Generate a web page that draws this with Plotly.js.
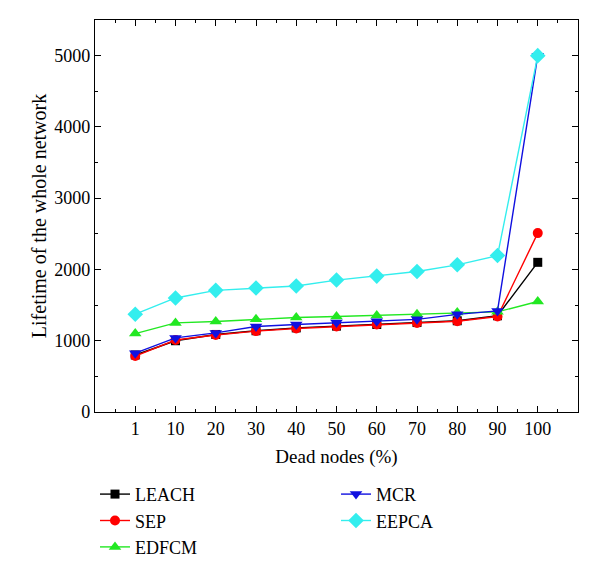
<!DOCTYPE html>
<html>
<head>
<meta charset="utf-8">
<script src="https://cdn.plot.ly/plotly-3.0.1.min.js"></script>
<style>html,body{margin:0;padding:0;background:#fff;}</style>
</head>
<body>
<div id="chart" style="width:600px;height:582px;"></div>
<script>
const categories = ["1","10","20","30","40","50","60","70","80","90","100"];
const leach = [800, 1000, 1088, 1140, 1180, 1205, 1228, 1255, 1280, 1350, 2100];
const sep   = [785, 1010, 1080, 1135, 1172, 1200, 1228, 1250, 1274, 1340, 2510];
const edfcm = [1100, 1250, 1270, 1300, 1325, 1340, 1355, 1370, 1395, 1405, 1550];
const mcr   = [825, 1040, 1110, 1200, 1228, 1255, 1275, 1300, 1370, 1418, 5000];
const eepca = [1372, 1600, 1707, 1740, 1767, 1851, 1907, 1972, 2065, 2195, 5000];

const xpos = categories.map((c, i) => i + 1);
const serif = "Liberation Serif, DejaVu Serif, serif";

function tr(name, y, color, symbol, size, legend) {
  return {
    x: xpos, y: y, name: name, type: "scatter", mode: "lines+markers",
    line: {color: color, width: 1.4},
    marker: {color: color, symbol: symbol, size: size},
    legend: legend
  };
}

const data = [
  tr("LEACH", leach, "#000000", "square", 9, "legend"),
  tr("SEP", sep, "#ff0000", "circle", 10, "legend"),
  tr("EDFCM", edfcm, "#22e822", "triangle-up", 11, "legend"),
  tr("MCR", mcr, "#1010e0", "triangle-down", 11, "legend2"),
  tr("EEPCA", eepca, "#33eeee", "diamond", 12, "legend2")
];

const legendBase = {
  orientation: "v", yanchor: "top", xanchor: "left",
  font: {family: serif, size: 18, color: "#000"},
  bgcolor: "rgba(0,0,0,0)", tracegroupgap: 0
};

const layout = {
  width: 600, height: 582,
  margin: {l: 95, r: 22, t: 20, b: 170},
  paper_bgcolor: "#fff", plot_bgcolor: "#fff",
  font: {family: serif, size: 18, color: "#000"},
  showlegend: true,
  xaxis: {
    range: [0, 12], tickmode: "array", tickvals: xpos, ticktext: categories,
    ticks: "inside", ticklen: 6, tickwidth: 1, tickcolor: "#000",
    showline: true, linecolor: "#000", linewidth: 1.2, mirror: "allticks",
    showgrid: false, zeroline: false,
    minor: {tickmode: "linear", tick0: 0.5, dtick: 1, ticks: "inside", ticklen: 3, tickcolor: "#000"},
    tickfont: {family: serif, size: 18},
    title: {text: "Dead nodes (%)", font: {family: serif, size: 19}, standoff: 12}
  },
  yaxis: {
    range: [0, 5500], tickmode: "linear", tick0: 0, dtick: 1000,
    ticks: "inside", ticklen: 6, tickwidth: 1, tickcolor: "#000",
    showline: true, linecolor: "#000", linewidth: 1.2, mirror: "allticks",
    showgrid: false, zeroline: false,
    minor: {tickmode: "linear", tick0: 500, dtick: 1000, ticks: "inside", ticklen: 3, tickcolor: "#000"},
    tickfont: {family: serif, size: 18},
    title: {text: "Lifetime of the whole network", font: {family: serif, size: 20}, standoff: 2}
  },
  legend: Object.assign({}, legendBase, {x: 0.0, y: -0.163}),
  legend2: Object.assign({}, legendBase, {x: 0.499, y: -0.163})
};

Plotly.newPlot("chart", data, layout, {displayModeBar: false, staticPlot: true});
</script>
</body>
</html>
